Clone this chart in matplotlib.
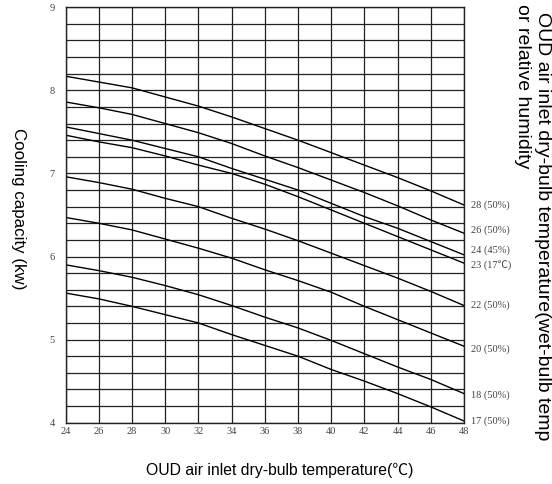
import numpy as np
import matplotlib
matplotlib.use("Agg")
import matplotlib.pyplot as plt

# dry-bulb temperature (x) and cooling capacity per condition (kw)
temps = [24, 26, 28, 30, 32, 34, 36, 38, 40, 42, 44, 46, 48]
cap_28 = [8.17, 8.10, 8.03, 7.92, 7.81, 7.68, 7.54, 7.40, 7.25, 7.10, 6.95, 6.79, 6.62]
cap_26 = [7.86, 7.79, 7.71, 7.60, 7.49, 7.36, 7.21, 7.07, 6.92, 6.77, 6.61, 6.44, 6.28]
cap_24 = [7.56, 7.48, 7.40, 7.30, 7.20, 7.06, 6.93, 6.80, 6.64, 6.48, 6.34, 6.18, 6.02]
cap_23 = [7.46, 7.38, 7.31, 7.21, 7.10, 7.00, 6.87, 6.72, 6.56, 6.40, 6.24, 6.08, 5.92]
cap_22 = [6.96, 6.89, 6.81, 6.70, 6.60, 6.46, 6.33, 6.19, 6.04, 5.89, 5.74, 5.58, 5.41]
cap_20 = [6.47, 6.40, 6.32, 6.21, 6.10, 5.98, 5.84, 5.71, 5.57, 5.40, 5.24, 5.08, 4.92]
cap_18 = [5.90, 5.83, 5.75, 5.65, 5.54, 5.41, 5.27, 5.14, 4.99, 4.83, 4.67, 4.52, 4.35]
cap_17 = [5.56, 5.49, 5.40, 5.30, 5.20, 5.06, 4.93, 4.80, 4.64, 4.50, 4.35, 4.19, 4.02]

series = [cap_28, cap_26, cap_24, cap_23, cap_22, cap_20, cap_18, cap_17]
labels = ["28 (50%)", "26 (50%)", "24 (45%)", "23 (17\u2103)",
          "22 (50%)", "20 (50%)", "18 (50%)", "17 (50%)"]
label_dy = [0, 2, 3, -1, 0, -2, -1, 0]  # small nudges in points

serif = ["Liberation Serif", "Noto Sans CJK SC"]
sans = ["Liberation Sans", "Noto Sans CJK SC"]

fig = plt.figure(figsize=(5.52, 4.84), dpi=100)
ax = fig.add_axes([0.119, 0.1267, 0.7216, 0.8583])

for x in range(24, 49, 2):
    ax.axvline(x, color="#222222", lw=0.9, zorder=1)
for y in np.arange(4, 9.01, 0.2):
    ax.axhline(y, color="#222222", lw=0.9, zorder=1)

for vals, lab, dy in zip(series, labels, label_dy):
    ax.plot(temps, vals, color="black", lw=1.0, zorder=2)
    ax.annotate(lab, (temps[-1], vals[-1]), xytext=(5, dy), textcoords="offset points",
                va="center", ha="left", fontsize=7.5, color="#444444",
                family=serif, annotation_clip=False)

ax.set_xlim(24, 48)
ax.set_ylim(4, 9)
ax.set_xticks(range(24, 49, 2))
ax.set_yticks(range(4, 10))
ax.tick_params(length=0, labelsize=7.5, labelcolor="#444444")
ax.tick_params(axis="x", pad=3)
ax.tick_params(axis="y", pad=8)
for t in ax.get_xticklabels() + ax.get_yticklabels():
    t.set_family(serif)
for s in ax.spines.values():
    s.set_color("#222222")
    s.set_linewidth(1.0)

fig.text(18 / 552, 1 - 209 / 484, "Cooling capacity (kw)", rotation=-90,
         ha="center", va="center", fontsize=12.2, family=sans)
fig.text(280 / 552, 1 - 470 / 484, "OUD air inlet dry-bulb temperature(\u2103)",
         ha="center", va="center", fontsize=11.3, family=sans)
fig.text(543 / 552, 1 - 12 / 484, "OUD air inlet dry-bulb temperature(wet-bulb temp",
         rotation=-90, ha="center", va="top", fontsize=14, family=sans)
fig.text(522 / 552, 1 - 4 / 484, "or relative humidity",
         rotation=-90, ha="center", va="top", fontsize=14, family=sans)

fig.savefig("out.png", dpi=100)
